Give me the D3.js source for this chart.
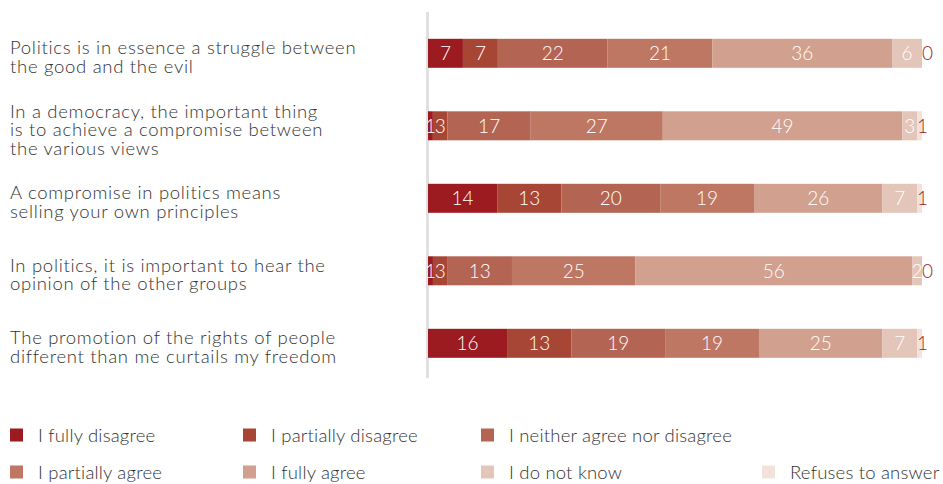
<!DOCTYPE html>
<html>
<head>
<meta charset="utf-8">
<script src="https://cdn.jsdelivr.net/npm/d3@7"></script>
<style>
  html, body { margin: 0; padding: 0; background: #fff; }
  svg { display: block; font-family: "Lato", "Open Sans", sans-serif; font-weight: 300; }
</style>
</head>
<body>
<svg id="chart" width="943" height="484"></svg>
<script>
// Survey statements (category axis), one row each
const statements = [
  ["Politics is in essence a struggle between", "the good and the evil"],
  ["In a democracy, the important thing", "is to achieve a compromise between", "the various views"],
  ["A compromise in politics means", "selling your own principles"],
  ["In politics, it is important to hear the", "opinion of the other groups"],
  ["The promotion of the rights of people", "different than me curtails my freedom"]
];

// Answer options (series), in stacking order
const answers = [
  "I fully disagree",
  "I partially disagree",
  "I neither agree nor disagree",
  "I partially agree",
  "I fully agree",
  "I do not know",
  "Refuses to answer"
];

// Percentages per answer, one value per statement
const fullyDisagree     = [7, 1, 14, 1, 16];
const partiallyDisagree = [7, 3, 13, 3, 13];
const neither           = [22, 17, 20, 13, 19];
const partiallyAgree    = [21, 27, 19, 25, 19];
const fullyAgree        = [36, 49, 26, 56, 25];
const doNotKnow         = [6, 3, 7, 2, 7];
const refuses           = [0, 1, 1, 0, 1];

const colors = ["#9b1b20", "#a84636", "#b46452", "#be7763", "#d2a08e", "#e3c5b9", "#f3e1db"];

const seriesValues = [fullyDisagree, partiallyDisagree, neither, partiallyAgree, fullyAgree, doNotKnow, refuses];

const rows = statements.map((s, i) => {
  const r = { key: i };
  answers.forEach((a, j) => { r[a] = seriesValues[j][i]; });
  return r;
});

const svg = d3.select("#chart");

const x = d3.scaleLinear().domain([0, 1]).range([428, 922]);
const y = d3.scalePoint().domain(d3.range(statements.length)).range([53.3, 343.3]);
// vertical centre of each statement's text block
const yLabel = d3.scalePoint().domain(d3.range(statements.length)).range([57.5, 347.5]);
const barH = 29;

const stack = d3.stack().keys(answers).offset(d3.stackOffsetExpand);
const layers = stack(rows);

// Category axis line
svg.append("line")
  .attr("x1", 427.5).attr("x2", 427.5)
  .attr("y1", 12).attr("y2", 378)
  .attr("stroke", "#e0e0e0").attr("stroke-width", 3);

// Bars
const g = svg.append("g");
layers.forEach((layer, j) => {
  g.selectAll(null)
    .data(layer)
    .join("rect")
    .attr("x", d => x(d[0]))
    .attr("y", (d, i) => y(i) - barH / 2)
    .attr("width", d => Math.max(0, x(d[1]) - x(d[0])))
    .attr("height", barH)
    .attr("fill", colors[j]);
});

// Value labels
layers.forEach((layer, j) => {
  const last = j === answers.length - 1;
  g.selectAll(null)
    .data(layer)
    .join("text")
    .attr("x", d => last ? x(d[0]) : (x(d[0]) + x(d[1])) / 2)
    .attr("y", (d, i) => y(i) + 7)
    .attr("text-anchor", last ? "start" : "middle")
    .attr("font-size", 19)
    .attr("fill", last ? "#9b1b20" : "#fff")
    .text(d => d.data[answers[j]]);
});

// Statement labels
const lineH = 18.5;
statements.forEach((lines, i) => {
  const t = svg.append("text")
    .attr("x", 10)
    .attr("font-size", 18.5)
    .attr("letter-spacing", 0.7)
    .attr("fill", "#333");
  const top = yLabel(i) - (lines.length - 1) * lineH / 2 + 6;
  lines.forEach((ln, k) => {
    t.append("tspan").attr("x", 10).attr("y", top + k * lineH).text(ln);
  });
});

// Legend
const legendCols = [10, 243, 481, 762];
const legendRows = [435, 472];
const legendPos = [[0,0],[1,0],[2,0],[0,1],[1,1],[2,1],[3,1]];
answers.forEach((a, j) => {
  const [c, r] = legendPos[j];
  const lg = svg.append("g").attr("transform", `translate(${legendCols[c]},${legendRows[r]})`);
  lg.append("rect").attr("x", 0).attr("y", -6.5).attr("width", 13).attr("height", 13).attr("fill", colors[j]);
  lg.append("text").attr("x", 28).attr("y", 6.5)
    .attr("font-size", 18.5).attr("letter-spacing", 0.2)
    .attr("fill", "#333").text(a);
});
</script>
</body>
</html>
